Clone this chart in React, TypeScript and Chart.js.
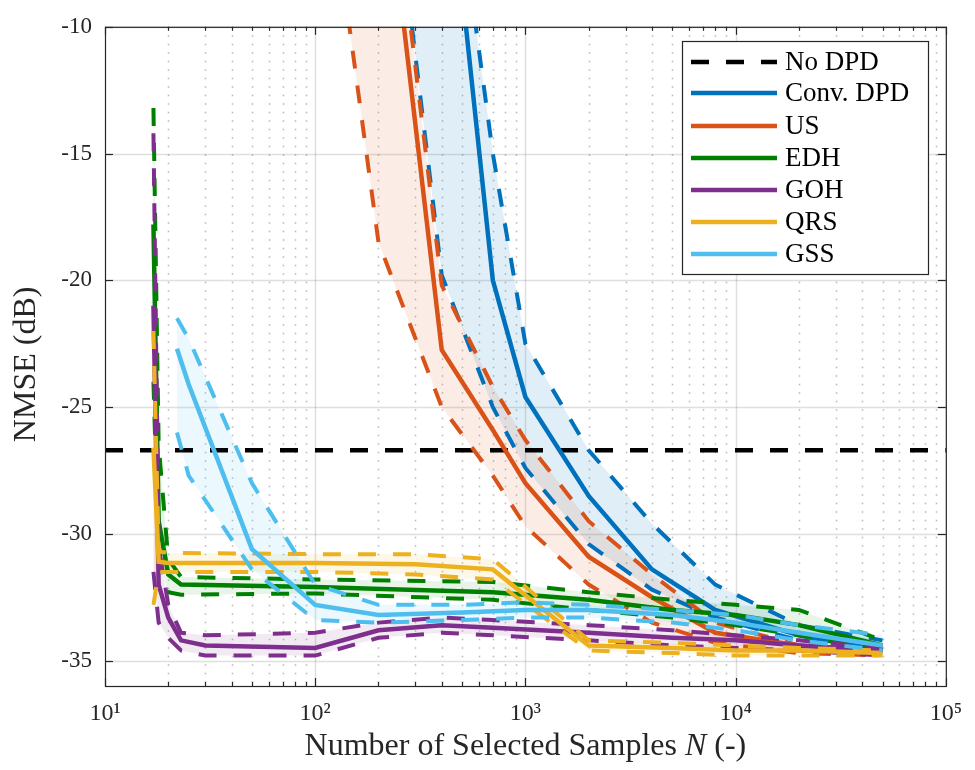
import React, { useEffect, useRef } from 'react';
import { Chart, registerables } from 'chart.js';

Chart.register(...registerables);

// ---------------- data ----------------
const NO_DPD = -26.7;

const X_TICKS = [10, 100, 1000, 10000, 100000];
const X_TICK_LABELS = ['10¹', '10²', '10³', '10⁴', '10⁵'];
const Y_TICKS = [-35, -30, -25, -20, -15, -10];

const CONV_N = [200, 400, 700, 1000, 2000, 4000, 8000, 20000, 50000];
const CONV_MEAN = [15, -1, -20, -24.6, -28.5, -31.4, -33.0, -34.0, -34.6];
const CONV_UP = [15, 0, -15, -22.5, -26.7, -29.6, -32.0, -33.6, -34.2];
const CONV_LO = [1, -19.8, -25.0, -27.4, -30.4, -32.2, -33.3, -34.2, -34.6];

const US_N = [100, 200, 400, 700, 1000, 2000, 4000, 8000, 20000, 50000];
const US_MEAN = [20, -1.4, -22.75, -25.9, -28.0, -30.9, -32.5, -33.9, -34.4, -34.6];
const US_UP = [20, 0.5, -20.2, -24.2, -26.3, -29.5, -31.6, -33.5, -34.4, -34.8];
const US_LO = [0, -18.5, -25.0, -27.7, -29.7, -32.0, -33.5, -34.3, -34.7, -34.8];

const EDH_N = [17, 18, 20, 23, 100, 700, 2000, 5000, 10000, 20000, 50000];
const EDH_MEAN = [-17.8, -29.5, -31.6, -32.0, -32.1, -32.3, -32.6, -33.0, -33.2, -33.6, -34.4];
const EDH_UP = [-13.2, -26.5, -31.0, -31.7, -31.8, -31.9, -32.3, -32.6, -32.8, -33.0, -34.2];
const EDH_LO = [-24.0, -31.0, -32.3, -32.4, -32.35, -32.6, -33.0, -33.3, -33.6, -34.0, -34.6];

const GOH_N = [17, 18, 20, 23, 30, 100, 200, 400, 700, 2000, 5000, 10000, 20000, 50000];
const GOH_MEAN = [-21, -32.0, -33.3, -34.2, -34.4, -34.5, -33.8, -33.6, -33.7, -33.9, -34.1, -34.2, -34.4, -34.6];
const GOH_UP = [-14.2, -30.5, -32.8, -33.9, -34.0, -33.9, -33.5, -33.3, -33.4, -33.6, -33.8, -34.0, -34.2, -34.5];
const GOH_LO = [-31.5, -33.5, -34.1, -34.6, -34.8, -34.8, -34.1, -33.9, -34.0, -34.2, -34.4, -34.5, -34.6, -34.8];

const QRS_N = [17, 18, 20, 100, 300, 700, 2000, 5000, 10000, 20000, 50000];
const QRS_MEAN = [-26.6, -31.1, -31.15, -31.15, -31.2, -31.4, -34.4, -34.5, -34.6, -34.6, -34.7];
const QRS_UP = [-22.0, -30.7, -30.75, -30.8, -30.8, -31.0, -34.2, -34.3, -34.4, -34.5, -34.6];
const QRS_LO = [-32.8, -31.5, -31.5, -31.5, -31.6, -31.8, -34.6, -34.7, -34.8, -34.8, -34.8];

const GSS_N = [22, 25, 50, 100, 200, 500, 1000, 2000, 5000, 10000, 20000, 50000];
const GSS_MEAN = [-22.7, -24.1, -30.6, -32.8, -33.2, -33.1, -33.0, -33.0, -33.2, -33.5, -33.9, -34.4];
const GSS_UP = [-21.5, -22.3, -28.0, -32.0, -32.8, -32.8, -32.7, -32.8, -33.0, -33.2, -33.6, -34.0];
const GSS_LO = [-26.0, -27.7, -31.4, -33.4, -33.5, -33.4, -33.3, -33.3, -33.5, -33.8, -34.2, -34.6];

const SERIES = [
  { label: 'Conv. DPD', color: '#0072BD', band: 'rgba(0,114,189,0.12)', n: CONV_N, mean: CONV_MEAN, up: CONV_UP, lo: CONV_LO },
  { label: 'US', color: '#D95319', band: 'rgba(217,83,25,0.11)', n: US_N, mean: US_MEAN, up: US_UP, lo: US_LO },
  { label: 'EDH', color: '#008000', band: 'rgba(0,128,0,0.09)', n: EDH_N, mean: EDH_MEAN, up: EDH_UP, lo: EDH_LO },
  { label: 'GOH', color: '#7E2F8E', band: 'rgba(126,47,142,0.10)', n: GOH_N, mean: GOH_MEAN, up: GOH_UP, lo: GOH_LO },
  { label: 'QRS', color: '#EDB120', band: 'rgba(237,177,32,0.10)', n: QRS_N, mean: QRS_MEAN, up: QRS_UP, lo: QRS_LO },
  { label: 'GSS', color: '#4DBEEE', band: 'rgba(77,190,238,0.11)', n: GSS_N, mean: GSS_MEAN, up: GSS_UP, lo: GSS_LO },
];

const FONT = '"Liberation Serif", "Times New Roman", serif';
const AXIS_COLOR = '#262626';
const DASH = [18, 17];

function pts(n: number[], y: number[]) {
  return n.map((v, i) => ({ x: v, y: y[i] }));
}

function buildDatasets() {
  const ds: any[] = [
    {
      label: 'No DPD',
      data: [{ x: 10, y: NO_DPD }, { x: 100000, y: NO_DPD }],
      borderColor: '#000000',
      borderWidth: 4.5,
      borderDash: DASH,
      fill: false,
      order: 100,
    },
  ];
  SERIES.forEach((s, i) => {
    const base = (6 - i) * 4;
    ds.push({
      label: s.label + ' upper',
      data: pts(s.n, s.up),
      borderColor: s.color,
      borderWidth: 4,
      borderDash: DASH,
      backgroundColor: s.band,
      fill: '+1',
      order: base + 2,
    });
    ds.push({
      label: s.label + ' lower',
      data: pts(s.n, s.lo),
      borderColor: s.color,
      borderWidth: 4,
      borderDash: DASH,
      fill: false,
      order: base + 1,
    });
    ds.push({
      label: s.label,
      data: pts(s.n, s.mean),
      borderColor: s.color,
      borderWidth: 4.5,
      fill: false,
      order: base,
    });
  });
  return ds;
}

const LEGEND = [
  { label: 'No DPD', color: '#000000', dash: DASH },
  ...SERIES.map((s) => ({ label: s.label, color: s.color, dash: [] as number[] })),
];

const decorPlugin = {
  id: 'decor',
  beforeDraw(chart: any) {
    const { ctx, chartArea: a, scales } = chart;
    const xs = scales.x;
    const ys = scales.y;
    ctx.save();
    ctx.strokeStyle = 'rgba(38,38,38,0.33)';
    ctx.lineWidth = 1.5;
    ctx.setLineDash([1.5, 7]);
    for (let d = 1; d <= 4; d++) {
      for (let k = 2; k <= 9; k++) {
        const px = Math.round(xs.getPixelForValue(k * Math.pow(10, d))) + 0.5;
        ctx.beginPath();
        ctx.moveTo(px, a.top);
        ctx.lineTo(px, a.bottom);
        ctx.stroke();
      }
    }
    ctx.setLineDash([]);
    ctx.strokeStyle = 'rgba(38,38,38,0.15)';
    ctx.lineWidth = 1.5;
    X_TICKS.slice(1, -1).forEach((v) => {
      const px = Math.round(xs.getPixelForValue(v)) + 0.5;
      ctx.beginPath();
      ctx.moveTo(px, a.top);
      ctx.lineTo(px, a.bottom);
      ctx.stroke();
    });
    Y_TICKS.forEach((v) => {
      const py = Math.round(ys.getPixelForValue(v)) + 0.5;
      ctx.beginPath();
      ctx.moveTo(a.left, py);
      ctx.lineTo(a.right, py);
      ctx.stroke();
    });
    ctx.restore();
  },
  afterDraw(chart: any) {
    const { ctx, chartArea: a, scales } = chart;
    const xs = scales.x;
    const ys = scales.y;
    ctx.save();
    ctx.strokeStyle = AXIS_COLOR;
    ctx.lineWidth = 1.2;
    ctx.setLineDash([]);
    ctx.strokeRect(a.left + 0.5, a.top + 0.5, a.right - a.left, a.bottom - a.top);
    const tick = (x1: number, y1: number, x2: number, y2: number) => {
      ctx.beginPath();
      ctx.moveTo(x1, y1);
      ctx.lineTo(x2, y2);
      ctx.stroke();
    };
    X_TICKS.forEach((v) => {
      const px = Math.round(xs.getPixelForValue(v)) + 0.5;
      tick(px, a.bottom, px, a.bottom - 8);
      tick(px, a.top, px, a.top + 8);
    });
    for (let d = 1; d <= 4; d++) {
      for (let k = 2; k <= 9; k++) {
        const px = Math.round(xs.getPixelForValue(k * Math.pow(10, d))) + 0.5;
        tick(px, a.bottom, px, a.bottom - 4);
        tick(px, a.top, px, a.top + 4);
      }
    }
    Y_TICKS.forEach((v) => {
      const py = Math.round(ys.getPixelForValue(v)) + 0.5;
      tick(a.left, py, a.left + 8, py);
      tick(a.right, py, a.right - 8, py);
    });

    // axis titles
    ctx.fillStyle = AXIS_COLOR;
    ctx.textBaseline = 'middle';
    ctx.font = `32px ${FONT}`;
    ctx.save();
    ctx.translate(27, (a.top + a.bottom) / 2 + 8);
    ctx.rotate(-Math.PI / 2);
    ctx.textAlign = 'center';
    ctx.fillText('NMSE (dB)', 0, 0);
    ctx.restore();

    const p1 = 'Number of Selected Samples ';
    const p2 = 'N';
    const p3 = ' (-)';
    ctx.font = `32px ${FONT}`;
    const w1 = ctx.measureText(p1).width;
    const w3 = ctx.measureText(p3).width;
    ctx.font = `italic 32px ${FONT}`;
    const w2 = ctx.measureText(p2).width;
    const total = w1 + w2 + w3;
    let tx = (a.left + a.right) / 2 - total / 2;
    const ty = 747;
    ctx.textAlign = 'left';
    ctx.font = `32px ${FONT}`;
    ctx.fillText(p1, tx, ty);
    tx += w1;
    ctx.font = `italic 32px ${FONT}`;
    ctx.fillText(p2, tx, ty);
    tx += w2;
    ctx.font = `32px ${FONT}`;
    ctx.fillText(p3, tx, ty);

    // legend
    const lx = 682, ly = 41, lw = 246, lh = 233;
    ctx.fillStyle = '#ffffff';
    ctx.fillRect(lx, ly, lw, lh);
    ctx.strokeStyle = AXIS_COLOR;
    ctx.lineWidth = 1.2;
    ctx.strokeRect(lx + 0.5, ly + 0.5, lw, lh);
    const rows = [62, 93, 126, 158, 190, 222, 254];
    LEGEND.forEach((e, i) => {
      const y = rows[i];
      ctx.strokeStyle = e.color;
      ctx.lineWidth = 4.5;
      ctx.setLineDash(e.dash);
      ctx.beginPath();
      ctx.moveTo(691, y);
      ctx.lineTo(777, y);
      ctx.stroke();
      ctx.setLineDash([]);
      ctx.fillStyle = '#000000';
      ctx.font = `27px ${FONT}`;
      ctx.textAlign = 'left';
      ctx.textBaseline = 'middle';
      ctx.fillText(e.label, 785, y + 1);
    });
    ctx.restore();
  },
};

export default function App() {
  const ref = useRef<HTMLCanvasElement | null>(null);
  useEffect(() => {
    if (!ref.current) return;
    Chart.defaults.font.family = FONT;
    const chart = new Chart(ref.current, {
      type: 'line',
      data: { datasets: buildDatasets() },
      options: {
        responsive: false,
        animation: false,
        events: [],
        layout: { padding: { left: 0, top: 17, right: 29, bottom: 0 } },
        elements: {
          point: { radius: 0, hoverRadius: 0 },
          line: { tension: 0, borderCapStyle: 'butt', borderJoinStyle: 'miter' },
        },
        datasets: { line: { clip: 0 } } as any,
        plugins: {
          legend: { display: false },
          tooltip: { enabled: false },
          filler: { drawTime: 'beforeDatasetsDraw', propagate: false },
        },
        scales: {
          x: {
            type: 'logarithmic',
            min: 10,
            max: 100000,
            grid: { display: false, drawTicks: false },
            border: { display: false },
            afterBuildTicks: (scale: any) => {
              scale.ticks = X_TICKS.map((v) => ({ value: v }));
            },
            afterFit: (scale: any) => {
              scale.height = 84;
            },
            ticks: {
              autoSkip: false,
              maxRotation: 0,
              padding: 13,
              color: AXIS_COLOR,
              font: { size: 24, family: FONT },
              callback: (v: any) => {
                const i = X_TICKS.indexOf(Number(v));
                return i >= 0 ? X_TICK_LABELS[i] : '';
              },
            },
          },
          y: {
            type: 'linear',
            min: -36,
            max: -10,
            grid: { display: false, drawTicks: false },
            border: { display: false },
            afterBuildTicks: (scale: any) => {
              scale.ticks = Y_TICKS.map((v) => ({ value: v }));
            },
            afterFit: (scale: any) => {
              scale.width = 105;
            },
            ticks: {
              autoSkip: false,
              padding: 13,
              color: AXIS_COLOR,
              font: { size: 23, family: FONT },
              callback: (v: any) => String(v),
            },
          },
        },
      },
      plugins: [decorPlugin],
    } as any);
    return () => chart.destroy();
  }, []);
  return (
    <div style={{ position: 'absolute', left: 0, top: 0, width: 975, height: 770, background: '#ffffff' }}>
      <canvas ref={ref} width={975} height={770} />
    </div>
  );
}
